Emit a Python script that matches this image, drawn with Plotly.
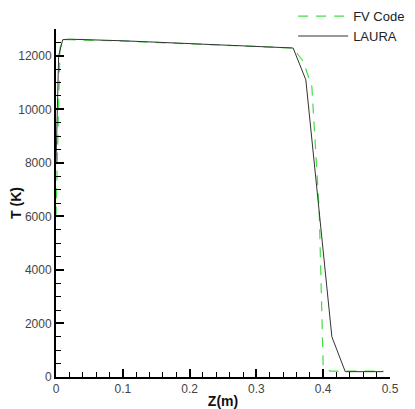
import plotly.graph_objects as go

# FV Code (green dashed)
fv_z = [0.0, 0.002, 0.006, 0.010, 0.020, 0.10, 0.20, 0.30, 0.355, 0.370, 0.383, 0.394, 0.400, 0.410, 0.490]
fv_t = [6000, 8500, 12300, 12600, 12600, 12550, 12450, 12370, 12290, 11790, 10850, 6250, 400, 220, 220]

# LAURA (black solid)
laura_z = [0.0, 0.004, 0.010, 0.020, 0.10, 0.20, 0.30, 0.355, 0.374, 0.413, 0.433, 0.490]
laura_t = [8000, 12000, 12600, 12620, 12560, 12460, 12370, 12290, 11100, 1500, 200, 200]

x_ticks = [0, 0.1, 0.2, 0.3, 0.4, 0.5]
x_labels = ["0", "0.1", "0.2", "0.3", "0.4", "0.5"]
y_ticks = [0, 2000, 4000, 6000, 8000, 10000, 12000]
y_labels = ["0", "2000", "4000", "6000", "8000", "10000", "12000"]

fig = go.Figure()
fig.add_trace(go.Scatter(x=fv_z, y=fv_t, mode="lines", name="FV Code",
                         line=dict(color="#44dd44", width=1.2, dash="10px,8px")))
fig.add_trace(go.Scatter(x=laura_z, y=laura_t, mode="lines", name="LAURA",
                         line=dict(color="#333333", width=1)))

font = dict(family="Liberation Sans, Arial, sans-serif", size=12, color="#444444")
fig.update_layout(
    width=407, height=401,
    margin=dict(l=48, r=25, t=21, b=32, autoexpand=False),
    paper_bgcolor="white", plot_bgcolor="white",
    font=font,
    showlegend=True,
    legend=dict(x=0.71, y=1.08, xanchor="left", yanchor="top",
                bgcolor="rgba(0,0,0,0)", font=dict(size=13, color="#222222"),
                tracegroupgap=0, itemwidth=50),
    xaxis=dict(range=[0, 0.5], tickvals=x_ticks, ticktext=x_labels, automargin=False,
               showline=True, linecolor="black", linewidth=2,
               ticks="inside", ticklen=8, tickwidth=2, tickcolor="black",
               minor=dict(ticks="inside", dtick=0.02, ticklen=5, tickwidth=1, tickcolor="black"),
               showgrid=False, zeroline=False, mirror=False,
               title=dict(text="<b>Z(m)</b>", font=dict(size=14, color="#111111"), standoff=4)),
    yaxis=dict(range=[0, 13000], tickvals=y_ticks, ticktext=y_labels, automargin=False,
               showline=True, linecolor="black", linewidth=2,
               ticks="inside", ticklen=8, tickwidth=2, tickcolor="black",
               minor=dict(ticks="inside", dtick=500, ticklen=5, tickwidth=1, tickcolor="black"),
               showgrid=False, zeroline=False, mirror=False,
               title=dict(text="<b>T (K)</b>", font=dict(size=14, color="#111111"), standoff=4)),
)

fig.write_html("out.html")
